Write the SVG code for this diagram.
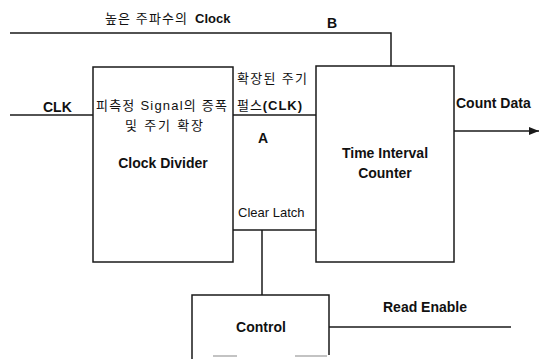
<svg xmlns="http://www.w3.org/2000/svg" width="541" height="359" viewBox="0 0 541 359">
<style>
.ln{fill:none;stroke:#1a1a1a;stroke-width:1.5}
.bx{fill:#fff;stroke:#1a1a1a;stroke-width:1.5}
.t{font-family:"Liberation Sans","Noto Sans CJK KR",Arial,sans-serif;font-size:13px;fill:#111}
.b{font-family:"Liberation Sans","Noto Sans CJK KR",Arial,sans-serif;font-size:14px;font-weight:bold;fill:#111}
.m{text-anchor:middle}
</style>
<defs>
<marker id="arr" markerWidth="10" markerHeight="8" refX="10" refY="4" orient="auto" markerUnits="userSpaceOnUse">
<path d="M0,0 L10,4 L0,8 Z" fill="#1a1a1a"/>
</marker>
</defs>
<rect width="541" height="359" fill="#fff"/>
<g id="connectors">
<path class="ln" d="M10,33 H391 V66"/>
<path class="ln" d="M10,115 H93"/>
<path class="ln" d="M233,115 H316"/>
<path class="ln" d="M233,230 H316"/>
<path class="ln" d="M262,230 V295"/>
<path class="ln" d="M329,327 H511"/>
<path class="ln" d="M454,131 H539" marker-end="url(#arr)"/>
</g>
<g id="clock-divider">
<rect class="bx" x="93" y="67" width="140" height="195"/>
<text class="t" x="96" y="110" textLength="131">피측정 Signal의 증폭</text>
<text class="t" x="125" y="130" textLength="78">및 주기 확장</text>
<text class="b m" x="163" y="168">Clock Divider</text>
</g>
<g id="time-interval-counter">
<rect class="bx" x="316" y="66" width="138" height="196"/>
<text class="b m" x="385" y="158">Time Interval</text>
<text class="b m" x="385" y="178">Counter</text>
</g>
<g id="control">
<path class="ln" d="M192,359 V295 H329 V355"/>
<path d="M213,356 H237 M295,356 H327" stroke="#888" stroke-width="1.2" fill="none"/>
<text class="b m" x="261" y="332">Control</text>
</g>
<g id="labels">
<text class="t" x="105" y="23" textLength="82">높은 주파수의</text>
<text class="t" x="195" y="23" font-weight="bold">Clock</text>
<text class="b" x="327" y="28">B</text>
<text class="b" x="43" y="112">CLK</text>
<text class="t" x="237" y="83" textLength="70">확장된 주기</text>
<text class="t" x="237" y="110" textLength="65">펄스<tspan font-weight="bold">(CLK)</tspan></text>
<text class="b" x="258" y="143">A</text>
<text class="t" x="238" y="217" font-size="14">Clear Latch</text>
<text class="b" x="456" y="108">Count Data</text>
<text class="b" x="383" y="312">Read Enable</text>
</g>
</svg>
